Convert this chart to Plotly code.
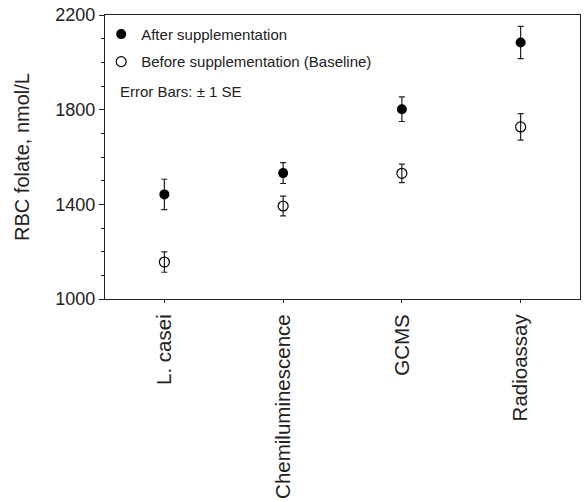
import plotly.graph_objects as go

categories = ["L. casei", "Chemiluminescence", "GCMS", "Radioassay"]
after_vals = [1442, 1532, 1802, 2084]
after_se = [64, 44, 52, 68]
before_vals = [1156, 1393, 1531, 1727]
before_se = [43, 42, 39, 56]

FONT = "Liberation Sans, Arial, Helvetica, sans-serif"
INK = "#222222"

fig = go.Figure()
fig.add_trace(go.Scatter(
    x=categories, y=after_vals, mode="markers", name="After supplementation",
    legendgroup="a",
    marker=dict(symbol="circle", size=10, color="black", line=dict(width=0)),
    error_y=dict(type="data", array=after_se, visible=True, color=INK, thickness=1.2, width=3),
))
fig.add_trace(go.Scatter(
    x=categories, y=before_vals, mode="markers", name="Before supplementation (Baseline)",
    legendgroup="b",
    marker=dict(symbol="circle-open", size=10, color="black", line=dict(width=1.2)),
    error_y=dict(type="data", array=before_se, visible=True, color=INK, thickness=1.2, width=3),
))

fig.add_annotation(
    x=0.027, y=0.732, xref="paper", yref="paper", xanchor="left", yanchor="middle",
    text="Error Bars: ± 1 SE", showarrow=False, font=dict(family=FONT, size=15, color=INK),
)

fig.update_layout(
    width=584, height=502,
    margin=dict(l=105, r=4, t=15, b=203),
    paper_bgcolor="white", plot_bgcolor="white",
    font=dict(family=FONT, color=INK),
    showlegend=True,
    legend=dict(
        x=-0.008, y=0.99, xanchor="left", yanchor="top",
        bgcolor="rgba(0,0,0,0)", font=dict(family=FONT, size=15, color=INK),
        traceorder="grouped", tracegroupgap=5, itemwidth=30,
    ),
    xaxis=dict(
        type="category", range=[-0.5, 3.5],
        showline=True, linecolor=INK, linewidth=1.2, mirror=True,
        showgrid=False, zeroline=False,
        ticks="outside", ticklen=3, tickcolor=INK,
        ticklabelstandoff=3,
        tickangle=-90, tickfont=dict(family=FONT, size=20.5, color=INK),
    ),
    yaxis=dict(
        range=[1000, 2200], tickvals=[1000, 1400, 1800, 2200],
        showline=True, linecolor=INK, linewidth=1.2, mirror=True,
        showgrid=False, zeroline=False,
        ticks="outside", ticklen=5, tickcolor=INK,
        minor=dict(dtick=100, ticks="outside", ticklen=3, tickcolor=INK, showgrid=False),
        tickfont=dict(family=FONT, size=18, color=INK),
        title=dict(text="RBC folate, nmol/L", font=dict(family=FONT, size=20, color=INK), standoff=20),
    ),
)

fig.write_html("out.html")
